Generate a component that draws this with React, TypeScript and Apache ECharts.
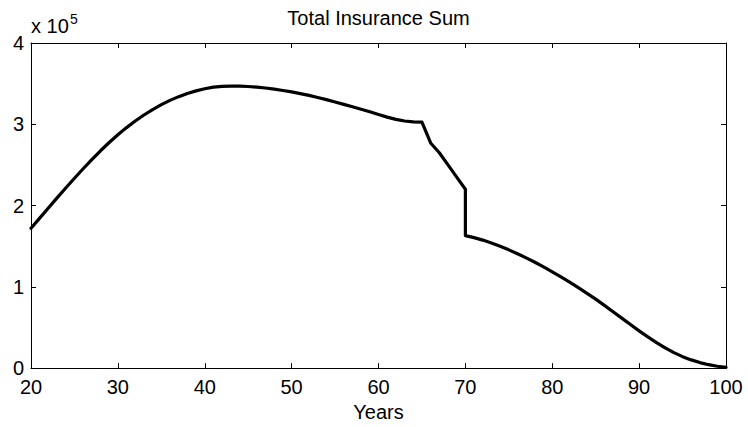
import React, { useEffect, useRef } from "react";
import * as echarts from "echarts";

// Age in years and the insured sum at each age (full currency units)
const years: number[] = [
  20, 21, 22, 23, 24, 25, 26, 27, 28, 29,
  30, 31, 32, 33, 34, 35, 36, 37, 38, 39,
  40, 41, 42, 43, 44, 45, 46, 47, 48, 49,
  50, 51, 52, 53, 54, 55, 56, 57, 58, 59,
  60, 61, 62, 63, 64, 65, 66, 67, 68, 69,
  70, 70, 71, 72, 73, 74, 75, 76, 77, 78, 79,
  80, 81, 82, 83, 84, 85, 86, 87, 88, 89,
  90, 91, 92, 93, 94, 95, 96, 97, 98, 99, 100,
];

const insuranceSum: number[] = [
  172000, 184500, 197000, 209400, 221600, 233600, 245300, 256600, 267400, 277600,
  287100, 295900, 304000, 311400, 318100, 324100, 329400, 334000, 337900, 341100,
  343700, 345700, 346700, 347000, 347000, 346500, 345700, 344600, 343200, 341600,
  339800, 337800, 335600, 333000, 330300, 327400, 324500, 321500, 318500, 315300,
  312000, 308800, 306000, 304000, 303000, 302600, 277000, 265000, 250000, 235000,
  220000, 163000, 160500, 157500, 154000, 150000, 145500, 140700, 135600, 130200, 124500,
  118500, 112300, 105800, 99000, 92000, 84800, 77200, 69400, 61500, 53600,
  45800, 38400, 31400, 24900, 19100, 14100, 10100, 6800, 4200, 2300, 1000,
];

const xTicks: number[] = [20, 30, 40, 50, 60, 70, 80, 90, 100];
const yTickLabels: string[] = ["0", "1", "2", "3", "4"];

const chartTitle = "Total Insurance Sum";
const xAxisTitle = "Years";
const yScaleBase = "x 10";
const yScaleExponent = "5";

const FONT = "'Liberation Sans', Arial, Helvetica, sans-serif";

export default function App() {
  const ref = useRef<HTMLDivElement>(null);

  useEffect(() => {
    if (!ref.current) return;
    const chart = echarts.init(ref.current, undefined, { renderer: "svg" });

    const points = years.map((y, i) => [y, insuranceSum[i]]);
    const xMin = xTicks[0];
    const xMax = xTicks[xTicks.length - 1];
    const yScale = 100000;

    const gridLeft = 31;
    const gridRight = 22;
    const gridTop = 43;
    const gridBottom = 58;
    const plotCenterX = gridLeft + (748 - gridLeft - gridRight) / 2;

    const axisLine = { show: true, onZero: false, lineStyle: { color: "#000", width: 1 } };
    const tick = { show: true, inside: true, length: 5, lineStyle: { color: "#000", width: 1 } };
    const labelStyle = { color: "#000", fontSize: 20, fontFamily: FONT };

    chart.setOption({
      animation: false,
      backgroundColor: "#fff",
      grid: { left: gridLeft, right: gridRight, top: gridTop, bottom: gridBottom, containLabel: false },
      xAxis: [
        {
          type: "value",
          position: "bottom",
          min: xMin,
          max: xMax,
          interval: 10,
          axisLine,
          axisTick: tick,
          splitLine: { show: false },
          axisLabel: { ...labelStyle, margin: 9 },
          name: xAxisTitle,
          nameLocation: "middle",
          nameGap: 32,
          nameTextStyle: { ...labelStyle },
        },
        {
          type: "value",
          position: "top",
          min: xMin,
          max: xMax,
          interval: 10,
          axisLine,
          axisTick: tick,
          splitLine: { show: false },
          axisLabel: { show: false },
        },
      ],
      yAxis: [
        {
          type: "value",
          position: "left",
          min: 0,
          max: 400000,
          interval: 100000,
          axisLine,
          axisTick: tick,
          splitLine: { show: false },
          axisLabel: {
            ...labelStyle,
            margin: 7,
            formatter: (v: number) => yTickLabels[Math.round(v / yScale)] ?? "",
          },
        },
        {
          type: "value",
          position: "right",
          min: 0,
          max: 400000,
          interval: 100000,
          axisLine,
          axisTick: tick,
          splitLine: { show: false },
          axisLabel: { show: false },
        },
      ],
      graphic: [
        {
          type: "text",
          x: plotCenterX,
          y: 8,
          style: {
            text: chartTitle,
            fill: "#000",
            font: `20px ${FONT}`,
            textAlign: "center",
            textVerticalAlign: "top",
          },
        },
        {
          type: "text",
          x: 31,
          y: 16,
          style: {
            text: yScaleBase,
            fill: "#000",
            font: `20px ${FONT}`,
            textAlign: "left",
            textVerticalAlign: "top",
          },
        },
        {
          type: "text",
          x: 70,
          y: 12,
          style: {
            text: yScaleExponent,
            fill: "#000",
            font: `14px ${FONT}`,
            textAlign: "left",
            textVerticalAlign: "top",
          },
        },
      ],
      series: [
        {
          type: "line",
          xAxisIndex: 0,
          yAxisIndex: 0,
          data: points,
          showSymbol: false,
          smooth: false,
          lineStyle: { color: "#000", width: 3.2, join: "round", cap: "round" },
          clip: true,
        },
      ],
    });

    return () => chart.dispose();
  }, []);

  return <div ref={ref} style={{ width: 748, height: 427, position: "absolute", left: 0, top: 0 }} />;
}
